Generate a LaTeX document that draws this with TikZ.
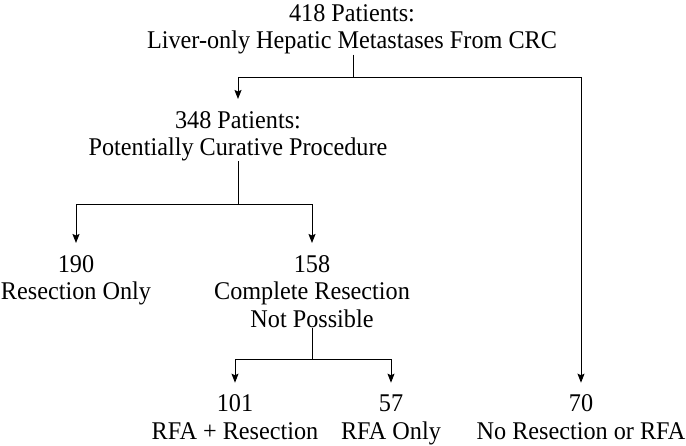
\documentclass[tikz,border=0pt]{standalone}
\usepackage{fontspec}
\setmainfont{Liberation Serif}[FakeStretch=0.95]
\usepackage{tikz}
\usetikzlibrary{arrows.meta,positioning,calc}

\begin{document}
\begin{tikzpicture}[x=1pt, y=-1pt, >={Stealth[length=9pt,width=7pt,inset=1.5pt]},
  count/.style={align=center, anchor=north, inner sep=0pt, font=\fontsize{25.5}{27.5}\selectfont},
  flow/.style={line width=1pt},
  arr/.style={flow, ->, shorten >=12pt}]
  \useasboundingbox (0,0) rectangle (686,446);
  \node[count] (Tot) at (352,4.2) {418 Patients:\\Liver-only Hepatic Metastases From CRC};
  \node[count] (Cur) at (238,111) {348 Patients:\\Potentially Curative Procedure};
  \node[count] (ResOnly) at (76,255) {190\\Resection Only};
  \node[count] (NotPoss) at (312,255) {158\\Complete Resection\\Not Possible};
  \node[count] (RfaRes) at (235,394.7) {101\\RFA + Resection};
  \node[count] (RfaOnly) at (391,394.7) {57\\RFA Only};
  \node[count] (None) at (581,394.7) {70\\No Resection or RFA};

  \coordinate (J1) at (353,78);
  \coordinate (J2) at (238,205);
  \coordinate (J3) at (312,360);

  \draw[flow] (J1 |- Tot.south) -- (J1);
  \draw[arr] (J1) -| (Cur.north);
  \draw[arr] (J1) -| (None.north);
  \draw[flow] (J2 |- Cur.south) -- (J2);
  \draw[arr] (J2) -| (ResOnly.north);
  \draw[arr] (J2) -| (NotPoss.north);
  \draw[flow] (J3 |- NotPoss.south) -- (J3);
  \draw[arr] (J3) -| (RfaRes.north);
  \draw[arr] (J3) -| (RfaOnly.north);
\end{tikzpicture}
\end{document}
